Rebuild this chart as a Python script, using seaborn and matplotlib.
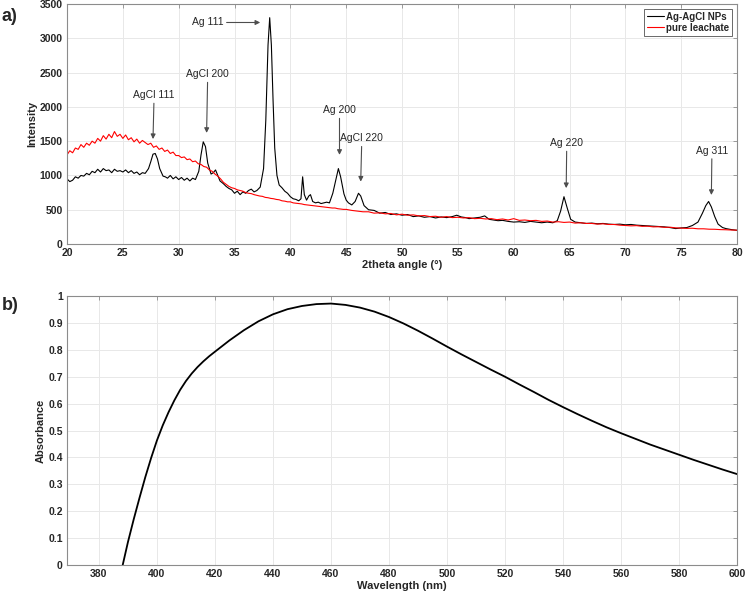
import matplotlib
matplotlib.use("Agg")
import matplotlib.pyplot as plt
import seaborn as sns

# ---- XRD data ----
ag_x = [20, 20.25, 20.5, 20.75, 21, 21.25, 21.5, 21.75, 22, 22.25,
        22.5, 22.75, 23, 23.25, 23.5, 23.75, 24, 24.25, 24.5, 24.75,
        25, 25.25, 25.5, 25.75, 26, 26.25, 26.5, 26.75, 27, 27.3,
        27.5, 27.7, 27.9, 28.1, 28.3, 28.6, 28.8, 29, 29.25, 29.5,
        29.75, 30, 30.25, 30.5, 30.75, 31, 31.25, 31.5, 31.8, 32.0,
        32.2, 32.4, 32.6, 32.9, 33.1, 33.3, 33.5, 33.7, 34, 34.25,
        34.5, 34.75, 35, 35.25, 35.5, 35.75, 36, 36.25, 36.5, 36.75,
        37, 37.3, 37.6, 37.8, 38.0, 38.15, 38.3, 38.45, 38.6, 38.8,
        39, 39.25, 39.5, 39.75, 40, 40.25, 40.5, 40.75, 40.95, 41.1,
        41.25, 41.45, 41.65, 41.8, 42, 42.25, 42.5, 42.75, 43, 43.25,
        43.5, 43.8, 44.1, 44.3, 44.5, 44.8, 45.0, 45.2, 45.5, 45.8,
        46.1, 46.3, 46.6, 47, 47.5, 48, 48.5, 49, 49.5, 50,
        50.5, 51, 51.5, 52, 52.5, 53, 53.5, 54, 54.5, 54.9,
        55.3, 55.7, 56, 56.5, 57, 57.4, 57.8, 58.2, 58.6, 59,
        59.5, 60, 60.5, 61, 61.5, 62, 62.5, 63, 63.5, 63.9,
        64.2, 64.5, 64.8, 65.1, 65.5, 66, 66.5, 67, 67.5, 68,
        68.5, 69, 69.5, 70, 70.5, 71, 71.5, 72, 72.5, 73,
        73.5, 74, 74.5, 75, 75.5, 76, 76.5, 76.9, 77.2, 77.45,
        77.7, 78.0, 78.3, 78.7, 79, 79.5, 80]
ag_y = [950, 910, 930, 980, 960, 1000, 990, 1030, 1010, 1060,
        1040, 1090, 1050, 1100, 1070, 1080, 1040, 1090, 1060, 1070,
        1050, 1080, 1040, 1070, 1030, 1050, 1010, 1040, 1030, 1100,
        1200, 1310, 1320, 1240, 1100, 990, 980, 960, 1000, 950,
        980, 940, 970, 930, 960, 920, 960, 940, 1060, 1300,
        1490, 1420, 1180, 1020, 1040, 1080, 1000, 920, 880, 840,
        810, 790, 740, 770, 720, 760, 740, 780, 800, 760,
        780, 830, 1100, 1800, 2900, 3300, 2900, 2100, 1400, 1000,
        860, 820, 770, 740, 690, 660, 650, 630, 660, 980,
        720, 640, 700, 720, 620, 600, 610, 590, 600, 610,
        600, 740, 960, 1100, 980, 730, 640, 600, 570, 620,
        740, 700, 560, 500, 490, 450, 460, 430, 440, 420,
        430, 400, 410, 390, 400, 380, 395, 385, 400, 420,
        395, 385, 370, 380, 390, 410, 360, 350, 340, 345,
        330, 320, 325, 315, 330, 320, 310, 320, 310, 340,
        480, 690, 520, 360, 320, 310, 300, 305, 295, 300,
        290, 285, 290, 280, 285, 275, 270, 265, 260, 255,
        250, 240, 225, 235, 240, 270, 320, 450, 560, 620,
        540, 400, 290, 240, 225, 210, 200]

leach_x = [20 + 0.25 * i for i in range(100)] + [45 + 0.5 * i for i in range(71)]
leach_y = [1300, 1360, 1330, 1400, 1380, 1450, 1410, 1470, 1440, 1500,
           1470, 1540, 1500, 1580, 1530, 1600, 1550, 1640, 1570, 1600,
           1540, 1590, 1520, 1550, 1490, 1530, 1470, 1510, 1480, 1450,
           1470, 1410, 1430, 1380, 1400, 1350, 1370, 1320, 1340, 1290,
           1290, 1260, 1270, 1230, 1240, 1200, 1210, 1170, 1160, 1130,
           1120, 1080, 1060, 1020, 990, 950, 900, 870, 840, 820,
           810, 790, 780, 770, 750, 740, 735, 720, 710, 700,
           695, 680, 675, 665, 660, 650, 645, 630, 625, 615,
           615, 600, 595, 590, 585, 575, 570, 565, 560, 555,
           550, 545, 540, 535, 530, 525, 525, 515, 510, 505,
           505, 490, 480, 470, 470, 450, 455, 440, 445, 425,
           435, 420, 425, 410, 415, 400, 405, 390, 400, 385,
           390, 380, 385, 370, 375, 365, 370, 355, 365, 350,
           370, 345, 350, 340, 345, 330, 335, 320, 325, 315,
           320, 305, 310, 300, 300, 290, 295, 285, 285, 275,
           270, 265, 268, 258, 260, 250, 252, 243, 245, 236,
           232, 228, 230, 222, 222, 216, 215, 210, 208, 204,
           202]

peak_labels = ["AgCl 111", "AgCl 200", "Ag 200", "AgCl 220", "Ag 220", "Ag 311"]
peak_text = [(27.8, 2100), (32.6, 2405), (44.4, 1880), (46.4, 1470), (64.75, 1400), (77.75, 1290)]
peak_head = [(27.7, 1530), (32.5, 1620), (44.4, 1300), (46.3, 910), (64.7, 815), (77.7, 715)]

# ---- UV-Vis data ----
wl = [388.2, 390, 392, 394, 396, 398, 400, 402, 404, 406, 408, 410, 412, 414, 416, 418, 420,
      425, 430, 435, 440, 445, 450, 455, 460, 465, 470, 475, 480, 485, 490, 495, 500, 505,
      510, 515, 520, 525, 530, 535, 540, 545, 550, 555, 560, 565, 570, 575, 580, 585, 590,
      595, 600]
absb = [0.0, 0.085, 0.17, 0.25, 0.327, 0.398, 0.463, 0.519, 0.568, 0.612, 0.651, 0.684, 0.712,
        0.736, 0.757, 0.776, 0.793, 0.835, 0.873, 0.906, 0.932, 0.951, 0.963, 0.97, 0.972,
        0.967, 0.957, 0.942, 0.922, 0.898, 0.871, 0.842, 0.812, 0.783, 0.755, 0.727, 0.70,
        0.671, 0.643, 0.614, 0.587, 0.561, 0.536, 0.512, 0.49, 0.469, 0.448, 0.429, 0.41,
        0.391, 0.373, 0.355, 0.338]

sns.set_style("white")
plt.rcParams["font.family"] = ["Liberation Sans", "DejaVu Sans"]

fig = plt.figure(figsize=(7.47, 5.93), dpi=100)
ax1 = fig.add_axes([0.0897, 0.5885, 0.897, 0.4048])
ax2 = fig.add_axes([0.0897, 0.0472, 0.897, 0.4536])

sns.lineplot(x=ag_x, y=ag_y, ax=ax1, color="black", lw=0.8, label="Ag-AgCl NPs",
             estimator=None, sort=False)
sns.lineplot(x=leach_x, y=leach_y, ax=ax1, color="red", lw=0.8, label="pure leachate",
             estimator=None, sort=False)

for lab, t, h in zip(peak_labels, peak_text, peak_head):
    ax1.annotate(lab, xy=h, xytext=t, ha="center", va="bottom", fontsize=7.5, color="#262626",
                 arrowprops=dict(arrowstyle="-|>", color="#4d4d4d", lw=0.8,
                                 mutation_scale=7, shrinkA=0, shrinkB=0))
ax1.annotate("Ag 111", xy=(37.3, 3230), xytext=(34.0, 3230), ha="right", va="center",
             fontsize=7.5, color="#262626",
             arrowprops=dict(arrowstyle="-|>", color="#4d4d4d", lw=0.8,
                             mutation_scale=7, shrinkA=0, shrinkB=0))

ax1.set_xlim(20, 80)
ax1.set_ylim(0, 3500)
ax1.set_xticks(range(20, 81, 5))
ax1.set_yticks(range(0, 3501, 500))
ax1.set_xlabel("2theta angle (°)", fontsize=8, fontweight="bold", labelpad=1)
ax1.set_ylabel("Intensity", fontsize=8, fontweight="bold", labelpad=2)
leg = ax1.legend(loc="upper right", fontsize=7, frameon=True, fancybox=False,
                 handlelength=1.8, borderpad=0.3, labelspacing=0.1, handletextpad=0.2,
                 borderaxespad=0.5)
leg.get_frame().set_edgecolor("#262626")
leg.get_frame().set_linewidth(0.6)
for t in leg.get_texts():
    t.set_fontweight("bold")

sns.lineplot(x=wl, y=absb, ax=ax2, color="black", lw=1.3, estimator=None, sort=False)
ax2.set_xlim(369, 600)
ax2.set_ylim(0, 1)
ax2.set_xticks(range(380, 601, 20))
ax2.set_yticks([i / 10 for i in range(11)])
ax2.set_yticklabels(["0", "0.1", "0.2", "0.3", "0.4", "0.5", "0.6", "0.7", "0.8", "0.9", "1"])
ax2.set_xlabel("Wavelength (nm)", fontsize=8, fontweight="bold", labelpad=1)
ax2.set_ylabel("Absorbance", fontsize=8, fontweight="bold", labelpad=2)

for ax in (ax1, ax2):
    ax.grid(True, color="#e8e8e8", lw=0.7)
    ax.set_axisbelow(True)
    for s in ax.spines.values():
        s.set_color("#8c8c8c")
        s.set_linewidth(0.8)
    ax.tick_params(direction="in", length=3, width=0.6, color="#8c8c8c",
                   top=True, right=True, labelsize=7.5, labelcolor="#262626", pad=3)
    for lbl in ax.get_xticklabels() + ax.get_yticklabels():
        lbl.set_fontweight("bold")

fig.text(0.002, 0.972, "a)", fontsize=13, fontweight="bold", va="center")
fig.text(0.002, 0.484, "b)", fontsize=13, fontweight="bold", va="center")

fig.savefig("out.png", dpi=100)
